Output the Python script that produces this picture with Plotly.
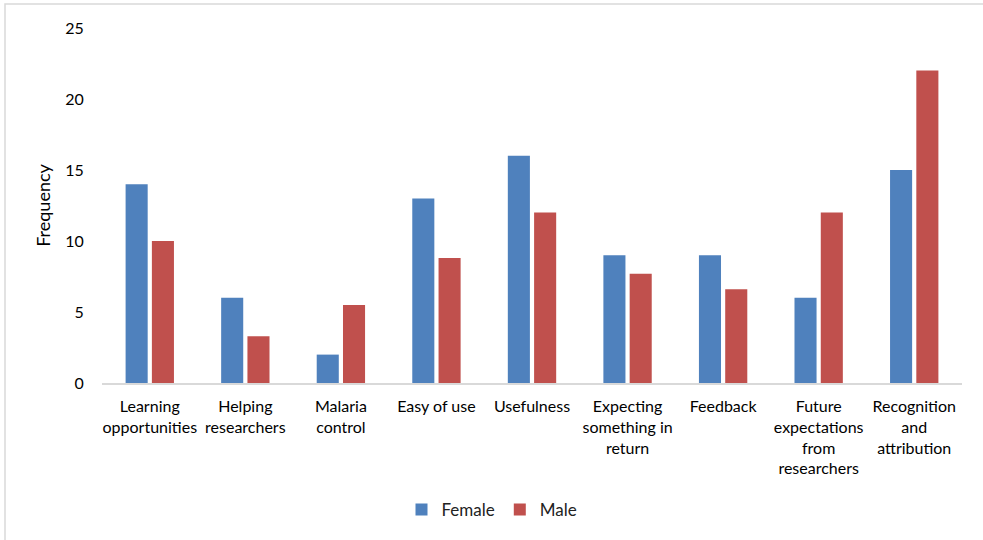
import plotly.graph_objects as go

categories = [
    "Learning<br>opportunities",
    "Helping<br>researchers",
    "Malaria<br>control",
    "Easy of use",
    "Usefulness",
    "Expecting<br>something in<br>return",
    "Feedback",
    "Future<br>expectations<br>from<br>researchers",
    "Recognition<br>and<br>attribution",
]
female = [14, 6, 2, 13, 16, 9, 9, 6, 15]
male = [10, 3.3, 5.5, 8.8, 12, 7.7, 6.6, 12, 22]
y_ticks = [0, 5, 10, 15, 20, 25]

FONT = "Lato, 'Open Sans', sans-serif"
W, H = 983, 540
L, R, T, B = 102, 21, 28, 157
pw, ph = W - L - R, H - T - B

fig = go.Figure()
fig.add_trace(go.Bar(name="Female", x=categories, y=female,
                     marker=dict(color="#4F81BD", line=dict(width=0))))
fig.add_trace(go.Bar(name="Male", x=categories, y=male,
                     marker=dict(color="#C0504D", line=dict(width=0))))

# light frame around the chart area
fig.add_shape(type="rect", xref="paper", yref="paper",
              x0=(5 - L) / pw, x1=(995 - L) / pw,
              y0=(T + ph - 550) / ph, y1=1 + (T - 4) / ph,
              line=dict(color="#D9D9D9", width=1.5), fillcolor="rgba(0,0,0,0)",
              layer="below")

fig.update_layout(
    width=W, height=H,
    margin=dict(l=L, r=R, t=T, b=B),
    paper_bgcolor="white", plot_bgcolor="white",
    barmode="group", bargap=0.45, bargroupgap=0.16,
    font=dict(family=FONT, size=16, color="#000000"),
    showlegend=True,
    legend=dict(orientation="h", x=(492 - L) / pw, xanchor="center",
                y=(T + ph - 510) / ph, yanchor="middle",
                font=dict(size=17, color="#222222"), itemwidth=30,
                traceorder="normal"),
    xaxis=dict(showline=True, linecolor="#D9D9D9", linewidth=1.5,
               showgrid=False, ticks="outside", ticklen=8,
               tickcolor="rgba(0,0,0,0)", tickfont=dict(size=16),
               tickangle=0),
    yaxis=dict(range=[0, 25], tickvals=y_ticks, showgrid=False,
               showline=False, zeroline=False, ticks="outside", ticklen=14,
               tickcolor="rgba(0,0,0,0)", tickfont=dict(size=16),
               title=dict(text="Frequency", font=dict(size=18), standoff=9)),
)

fig.write_html("out.html")
